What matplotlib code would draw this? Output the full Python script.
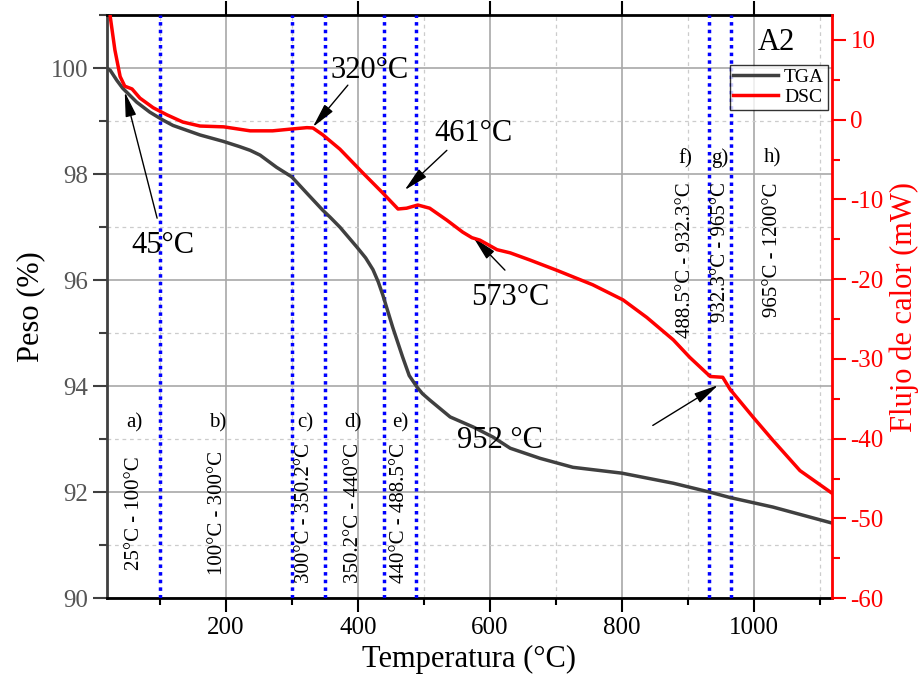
import numpy as np
import matplotlib.pyplot as plt
from matplotlib.ticker import MultipleLocator

plt.rcParams['font.family'] = ['Liberation Serif', 'DejaVu Serif']
plt.rcParams['axes.unicode_minus'] = False

# TGA (peso %) vs temperatura
tga_t = [20, 25, 35, 44, 65, 85, 105, 120, 161, 196, 221, 237, 252, 277, 300, 323,
         347, 358, 373, 399, 412, 423, 431, 438, 453, 468, 478, 490, 498, 509, 540,
         575, 605, 631, 676, 726, 800, 878, 934, 964, 1029, 1118]
tga_w = [100.0, 99.96, 99.77, 99.62, 99.36, 99.17, 99.02, 98.92, 98.74, 98.62, 98.52,
         98.45, 98.36, 98.13, 97.95, 97.64, 97.32, 97.19, 97.0, 96.62, 96.42, 96.2,
         95.97, 95.72, 95.11, 94.55, 94.2, 93.98, 93.86, 93.74, 93.42, 93.23, 93.04,
         92.83, 92.64, 92.47, 92.36, 92.17, 92.0, 91.9, 91.72, 91.42]

# DSC (flujo de calor mW) vs temperatura
dsc_t = [20, 25, 32, 40, 47, 58, 70, 90, 111, 135, 161, 197, 237, 271, 300, 323, 332,
         347, 373, 408, 438, 461, 474, 491, 509, 535, 559, 573, 585, 611, 631, 661,
         702, 756, 802, 838, 878, 903, 934, 953, 964, 999, 1029, 1070, 1118]
dsc_q = [20.0, 12.9, 8.75, 5.4, 4.2, 3.85, 2.7, 1.5, 0.6, -0.3, -0.8, -0.9, -1.4,
         -1.4, -1.17, -1.0, -1.04, -1.9, -3.7, -6.7, -9.2, -11.2, -11.1, -10.7, -11.1,
         -12.6, -14.1, -14.8, -15.1, -16.3, -16.7, -17.6, -18.9, -20.7, -22.6, -24.8,
         -27.6, -29.8, -32.2, -32.3, -33.8, -37.3, -40.2, -44.0, -46.8]

# limites de las etapas
limits = [100, 300, 350.2, 440, 488.5, 932.3, 965]

stage_letters = ['a)', 'b)', 'c)', 'd)', 'e)', 'f)', 'g)', 'h)']
stage_ranges = ['25°C - 100°C', '100°C - 300°C', '300°C - 350.2°C', '350.2°C - 440°C',
                '440°C - 488.5°C', '488.5°C - 932.3°C', '932.3°C - 965°C', '965°C - 1200°C']
stage_x = [62, 188, 320, 393, 464, 897, 949, 1029]

# picos anotados (texto, punta de flecha, posicion del texto)
peak_labels = ['45°C', '320°C', '461°C', '573°C', '952 °C']
peak_tip = [(47, 99.55), (332, 98.89), (471, 97.7), (575, 96.81), (946, 94.02)]
peak_text = [(105, 96.66), (418, 99.96), (575, 98.77), (631, 95.68), (615, 92.98)]
peak_tail = [(96, 97.17), (385, 99.68), (535, 98.45), (623, 96.19), (847, 93.26)]

fig = plt.figure(figsize=(9.22, 6.9), dpi=100)
ax = fig.add_axes([0.116, 0.133, 0.786, 0.845])
ax2 = ax.twinx()

ax.set_xlim(20, 1118)
ax.set_ylim(90, 101)
ax2.set_ylim(-60, 13.1)

ax.xaxis.set_major_locator(MultipleLocator(200))
ax.xaxis.set_minor_locator(MultipleLocator(100))
ax.yaxis.set_major_locator(MultipleLocator(2))
ax.yaxis.set_minor_locator(MultipleLocator(1))
ax2.yaxis.set_major_locator(MultipleLocator(10))
ax2.yaxis.set_minor_locator(MultipleLocator(5))

ax.grid(True, which='major', color='#a8a8a8', lw=1.2, ls='-')
ax.grid(True, which='minor', color='#cccccc', lw=0.9, ls=(0, (3, 3)))
ax.set_axisbelow(True)

for x in limits:
    ax.axvline(x, color='#0000ff', lw=2.5, ls=(0, (1, 1.2)), zorder=3)

ax.plot(tga_t, tga_w, color='#404040', lw=2.5, label='TGA', zorder=4)
ax2.plot(dsc_t, dsc_q, color='#ff0000', lw=2.5, label='DSC', zorder=4)

for i in range(8):
    if i < 5:
        ax.text(stage_x[i], 93.3, stage_letters[i], fontsize=15, ha='center', va='center')
        ax.text(stage_x[i], 91.6, stage_ranges[i], fontsize=15, rotation=90,
                ha='center', va='center')
    else:
        ax.text(stage_x[i], 98.3, stage_letters[i], fontsize=15, ha='center', va='center')
        ax.text(stage_x[i], 97.85, stage_ranges[i], fontsize=15, rotation=90,
                ha='center', va='top')

for lab, tip, txt, tail in zip(peak_labels, peak_tip, peak_text, peak_tail):
    ax.text(txt[0], txt[1], lab, fontsize=22, ha='center', va='center', zorder=6)
    ax.annotate('', xy=tip, xytext=tail,
                arrowprops=dict(arrowstyle='-|>,head_length=1.0,head_width=0.22',
                                color='black', lw=1, mutation_scale=15,
                                shrinkA=0, shrinkB=0), zorder=6)

ax.text(1034, 100.49, 'A2', fontsize=22, ha='center', va='center')

ax.set_xlabel('Temperatura (°C)', fontsize=22)
ax.set_ylabel('Peso (%)', fontsize=22)
ax2.set_ylabel('Flujo de calor (mW)', fontsize=22, color='#ff0000')

ax.tick_params(axis='x', which='major', labelsize=18, length=10, width=1.5,
               direction='out', top=True, colors='black')
ax.tick_params(axis='x', which='minor', length=5, width=1.5, direction='out', top=False)
ax.tick_params(axis='y', which='major', labelsize=18, length=10, width=1.5,
               color='#404040', labelcolor='#555555')
ax.tick_params(axis='y', which='minor', length=6, width=1.5, color='#404040')
ax2.tick_params(axis='y', which='major', labelsize=18, length=10, width=1.5,
                colors='#ff0000')
ax2.tick_params(axis='y', which='minor', length=6, width=1.5, colors='#ff0000')

ax.spines['left'].set_color('#404040')
ax.spines['left'].set_linewidth(2)
ax.spines['bottom'].set_linewidth(2)
ax.spines['top'].set_linewidth(2)
ax2.spines['right'].set_color('#ff0000')
ax2.spines['right'].set_linewidth(2)
ax2.spines['left'].set_visible(False)
ax2.spines['top'].set_visible(False)
ax2.spines['bottom'].set_visible(False)

h1, l1 = ax.get_legend_handles_labels()
h2, l2 = ax2.get_legend_handles_labels()
leg = ax2.legend(h1 + h2, l1 + l2, loc='upper right', bbox_to_anchor=(0.995, 0.915),
                 fontsize=14, frameon=True, fancybox=False, edgecolor='black',
                 handlelength=2.3, borderpad=0.2, labelspacing=0.1, handletextpad=0.3,
                 borderaxespad=0)
leg.get_frame().set_linewidth(1)

fig.savefig('out.png', dpi=100)
